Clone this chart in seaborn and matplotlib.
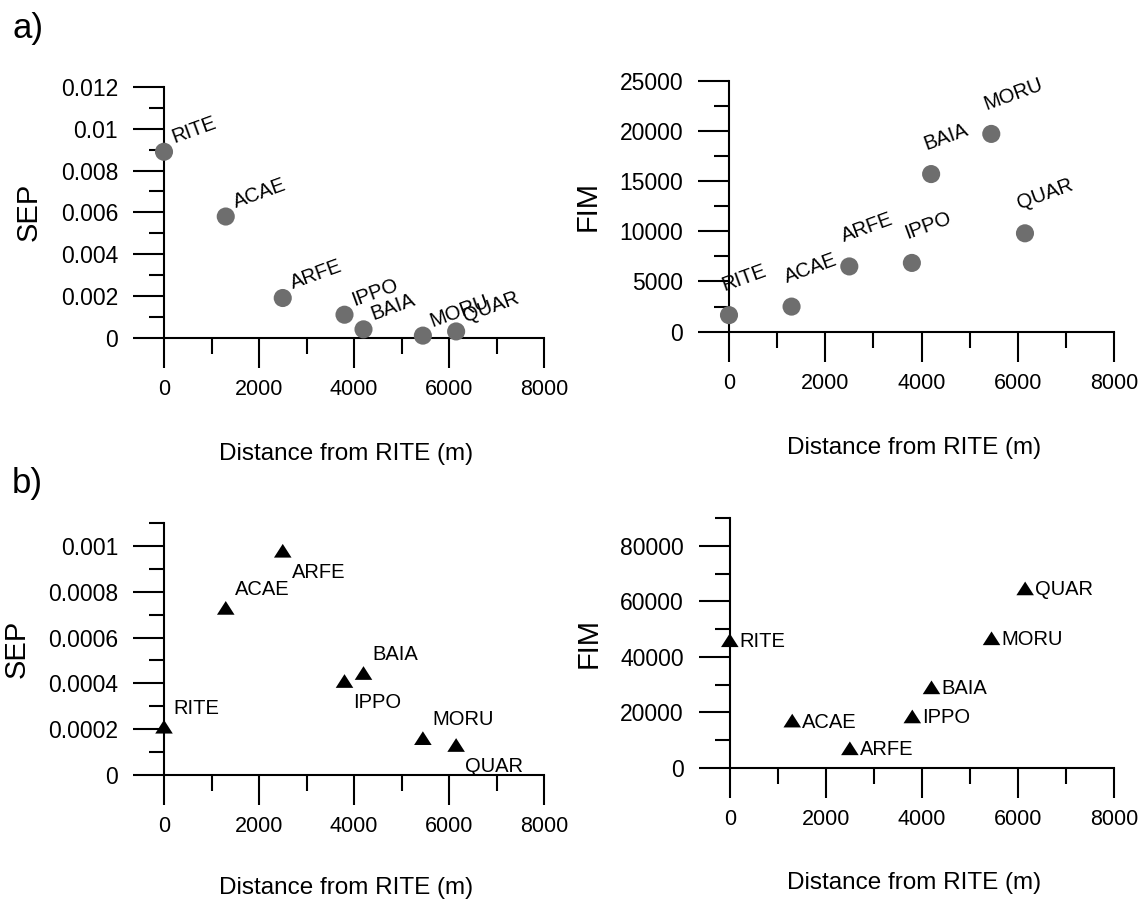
import numpy as np
import pandas as pd
import matplotlib
matplotlib.use("Agg")
import matplotlib.pyplot as plt
from matplotlib.ticker import MultipleLocator, FuncFormatter
from matplotlib.path import Path
import seaborn as sns

# ---------------- data ----------------
sites = ["RITE", "ACAE", "ARFE", "IPPO", "BAIA", "MORU", "QUAR"]
distance = [0, 1300, 2500, 3800, 4200, 5450, 6150]
sep_a = [0.0089, 0.0058, 0.0019, 0.0011, 0.0004, 0.0001, 0.0003]
fim_a = [1650, 2500, 6500, 6850, 15700, 19700, 9800]
sep_b = [0.00021, 0.00073, 0.00098, 0.00041, 0.000445, 0.00016, 0.00013]
fim_b = [46000, 17000, 7000, 18500, 29000, 46700, 64700]
# label placement in panel b-left: above / below the marker
sep_b_pos = ["above", "above", "below", "below", "above", "above", "below"]

x_label = "Distance from RITE (m)"

# ---------------- style ----------------
sns.set_style("ticks")
plt.rcParams["font.family"] = ["Liberation Sans", "DejaVu Sans"]
plt.rcParams["axes.linewidth"] = 1.5
plt.rcParams["text.color"] = "black"
plt.rcParams["axes.labelcolor"] = "black"
plt.rcParams["xtick.color"] = "black"
plt.rcParams["ytick.color"] = "black"
plt.rcParams["axes.edgecolor"] = "black"

fig = plt.figure(figsize=(11.4, 9), dpi=100)
W, H = 1140.0, 900.0


def make_ax(x0, x1, y0, y1):
    # x0,x1: pixel x of data 0 and 8000; y0: pixel y of 0, y1: pixel y of top
    return fig.add_axes([x0 / W, 1 - y0 / H, (x1 - x0) / W, (y0 - y1) / H])


ax_al = make_ax(164, 544, 337.7, 87)
ax_ar = make_ax(729, 1114, 331.7, 80.7)
ax_bl = make_ax(164, 544, 774.7, 523.3)
ax_br = make_ax(729.8, 1114, 767.7, 518.3)

gfmt = FuncFormatter(lambda v, p: "%g" % (0 if abs(v) < 1e-12 else v))

tri = Path([(0, 0.78), (-1, -0.78), (1, -0.78), (0, 0.78)],
           [Path.MOVETO, Path.LINETO, Path.LINETO, Path.CLOSEPOLY])


def style_axis(ax, ymax, ymaj, ymin, ylab, lab_x):
    ax.set_xlim(0, 8000)
    ax.set_ylim(0, ymax)
    ax.xaxis.set_major_locator(MultipleLocator(2000))
    ax.xaxis.set_minor_locator(MultipleLocator(1000))
    ax.yaxis.set_major_locator(MultipleLocator(ymaj))
    ax.yaxis.set_minor_locator(MultipleLocator(ymin))
    ax.xaxis.set_major_formatter(gfmt)
    ax.yaxis.set_major_formatter(gfmt)
    for s in ["top", "right"]:
        ax.spines[s].set_visible(False)
    for s in ["left", "bottom"]:
        ax.spines[s].set_linewidth(1.5)
        ax.spines[s].set_color("black")
    ax.tick_params(axis="x", which="major", direction="out", length=21.6,
                   width=1.5, pad=8.4, labelsize=15.5, colors="black")
    ax.tick_params(axis="x", which="minor", direction="out", length=11.5,
                   width=1.5, colors="black")
    ax.tick_params(axis="y", which="major", direction="out", length=22.3,
                   width=1.5, pad=10.8, labelsize=16.5, colors="black")
    ax.tick_params(axis="y", which="minor", direction="out", length=10.8,
                   width=1.5, colors="black")
    ax.set_xlabel(x_label, fontsize=17.5, color="black")
    ax.set_ylabel(ylab, fontsize=21, color="black")
    ax.xaxis.set_label_coords(0.48, -0.42)
    ax.yaxis.set_label_coords(lab_x, 0.5)
    ax.set_facecolor("white")


# ---------------- panel a ----------------
df_a = pd.DataFrame({"site": sites, "dist": distance, "SEP": sep_a, "FIM": fim_a})

sns.scatterplot(data=df_a, x="dist", y="SEP", ax=ax_al, color="#6e6e6e",
                s=170, marker="o", edgecolor="none", clip_on=False, zorder=5)
style_axis(ax_al, 0.012, 0.002, 0.001, "SEP", -0.32)
for name, xv, yv in zip(df_a["site"], df_a["dist"], df_a["SEP"]):
    ax_al.annotate(name, (xv, yv), xytext=(10, 9), textcoords="offset pixels",
                   rotation=20, rotation_mode="anchor", ha="left",
                   va="baseline", fontsize=14.5, color="black",
                   annotation_clip=False)

sns.scatterplot(data=df_a, x="dist", y="FIM", ax=ax_ar, color="#6e6e6e",
                s=170, marker="o", edgecolor="none", clip_on=False, zorder=5)
style_axis(ax_ar, 25000, 5000, 2500, "FIM", -0.33)
for name, xv, yv in zip(df_a["site"], df_a["dist"], df_a["FIM"]):
    ax_ar.annotate(name, (xv, yv), xytext=(-5, 24), textcoords="offset pixels",
                   rotation=20, rotation_mode="anchor", ha="left",
                   va="baseline", fontsize=14.5, color="black",
                   annotation_clip=False)

# ---------------- panel b ----------------
df_b = pd.DataFrame({"site": sites, "dist": distance, "SEP": sep_b,
                     "FIM": fim_b, "pos": sep_b_pos})

sns.scatterplot(data=df_b, x="dist", y="SEP", ax=ax_bl, color="black",
                s=160, marker=tri, edgecolor="none", clip_on=False, zorder=5)
style_axis(ax_bl, 0.0011001, 0.0002, 0.0001, "SEP", -0.35)
ax_bl.xaxis.set_label_coords(0.48, -0.405)
for name, xv, yv, pos in zip(df_b["site"], df_b["dist"], df_b["SEP"], df_b["pos"]):
    off = (9, 13) if pos == "above" else (9, -27)
    ax_bl.annotate(name, (xv, yv), xytext=off, textcoords="offset pixels",
                   ha="left", va="baseline", fontsize=14.5, color="black",
                   annotation_clip=False)

sns.scatterplot(data=df_b, x="dist", y="FIM", ax=ax_br, color="black",
                s=160, marker=tri, edgecolor="none", clip_on=False, zorder=5)
style_axis(ax_br, 90001, 20000, 10000, "FIM", -0.33)
ax_br.xaxis.set_label_coords(0.48, -0.42)
for name, xv, yv in zip(df_b["site"], df_b["dist"], df_b["FIM"]):
    ax_br.annotate(name, (xv, yv), xytext=(10, -7), textcoords="offset pixels",
                   ha="left", va="baseline", fontsize=14.5, color="black",
                   annotation_clip=False)

# panel letters
fig.text(12 / W, 1 - 12 / H, "a)", fontsize=25, ha="left", va="top")
fig.text(12 / W, 1 - 467 / H, "b)", fontsize=25, ha="left", va="top")

fig.savefig("out.png", dpi=100, facecolor="white")
